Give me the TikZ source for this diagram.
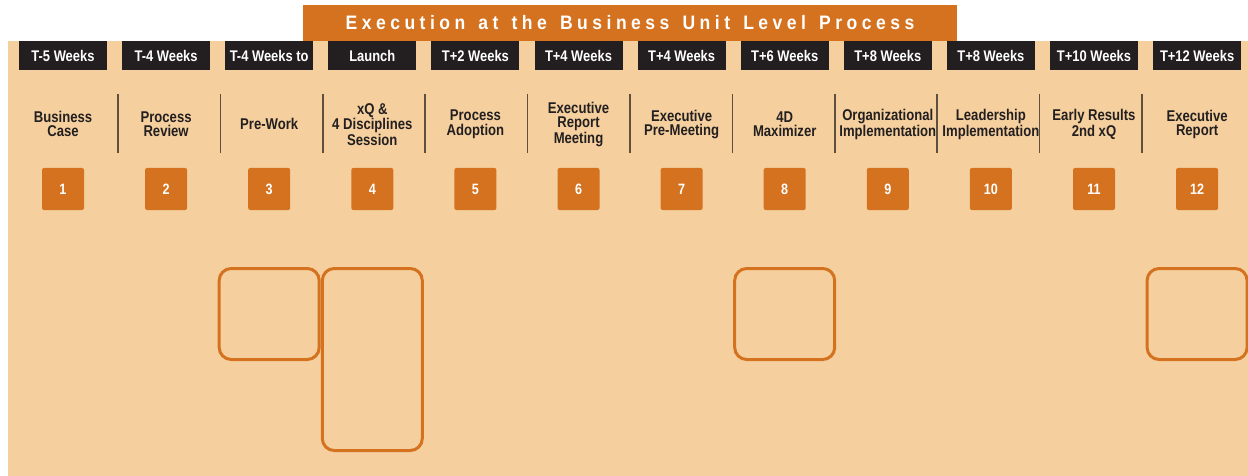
\documentclass[tikz,border=0pt]{standalone}
\usepackage{fontspec}
\setmainfont{Liberation Sans}[FakeStretch=0.84]
\newfontfamily\headfont{Liberation Sans}[FakeStretch=0.9, LetterSpace=23, WordSpace=1.4]
\usepackage{tikz}
\usetikzlibrary{positioning, calc}

\definecolor{sand}{RGB}{245,208,158}
\definecolor{rust}{RGB}{212,114,32}
\definecolor{ink}{RGB}{35,31,32}
\definecolor{rule}{RGB}{95,80,62}

\tikzstyle{title} = [rectangle, minimum width=654pt, minimum height=36pt, inner sep=0pt, fill=rust, text=white, font=\headfont\bfseries\fontsize{19.5}{20}\selectfont]
\tikzstyle{week} = [rectangle, minimum width=88pt, minimum height=29pt, inner sep=0pt, outer sep=0pt, fill=ink, text=white, font=\bfseries\fontsize{15.4}{15}\selectfont]
\tikzstyle{stage} = [align=center, inner sep=0pt, yshift=-2pt, text=ink, font=\bfseries\fontsize{15.6}{14.3}\selectfont]
\tikzstyle{num} = [rectangle, rounded corners=2pt, minimum size=42pt, inner sep=0pt, outer sep=0pt, fill=rust, text=white, font=\bfseries\fontsize{15}{15}\selectfont]
\tikzstyle{slot} = [rectangle, rounded corners=12pt, draw=rust, line width=3pt, minimum width=100pt, minimum height=91pt, inner sep=0pt, outer sep=0pt]
\tikzstyle{divider} = [draw=rule, line width=1.5pt]

\begin{document}
\begin{tikzpicture}[x=1pt, y=-1pt, node distance=15.1pt]
\useasboundingbox (0,0) rectangle (1248,476);
\fill[sand] (8,41) rectangle (1248,476);

\node [title] (head) at (630,23) {Execution at the Business Unit Level Process};

% timing tags
\node [week] (t1) at (63,55.5) {T-5 Weeks};
\node [week, right=of t1] (t2) {T-4 Weeks};
\node [week, right=of t2] (t3) {T-4 Weeks to};
\node [week, right=of t3] (t4) {Launch};
\node [week, right=of t4] (t5) {T+2 Weeks};
\node [week, right=of t5] (t6) {T+4 Weeks};
\node [week, right=of t6] (t7) {T+4 Weeks};
\node [week, right=of t7] (t8) {T+6 Weeks};
\node [week, right=of t8] (t9) {T+8 Weeks};
\node [week, right=of t9] (t10) {T+8 Weeks};
\node [week, right=of t10] (t11) {T+10 Weeks};
\node [week, right=of t11] (t12) {T+12 Weeks};

% step numbers
\node [num, below=98pt of t1] (n1) {1};
\node [num, below=98pt of t2] (n2) {2};
\node [num, below=98pt of t3] (n3) {3};
\node [num, below=98pt of t4] (n4) {4};
\node [num, below=98pt of t5] (n5) {5};
\node [num, below=98pt of t6] (n6) {6};
\node [num, below=98pt of t7] (n7) {7};
\node [num, below=98pt of t8] (n8) {8};
\node [num, below=98pt of t9] (n9) {9};
\node [num, below=98pt of t10] (n10) {10};
\node [num, below=98pt of t11] (n11) {11};
\node [num, below=98pt of t12] (n12) {12};

% stage names, halfway between tag and number
\node [stage] (s1) at ($(t1)!.5!(n1)$) {Business\\Case};
\node [stage] (s2) at ($(t2)!.5!(n2)$) {Process\\Review};
\node [stage] (s3) at ($(t3)!.5!(n3)$) {Pre-Work};
\node [stage] (s4) at ($(t4)!.5!(n4)$) {xQ \&\\4 Disciplines\\Session};
\node [stage] (s5) at ($(t5)!.5!(n5)$) {Process\\Adoption};
\node [stage] (s6) at ($(t6)!.5!(n6)$) {Executive\\Report\\Meeting};
\node [stage] (s7) at ($(t7)!.5!(n7)$) {Executive\\Pre-Meeting};
\node [stage] (s8) at ($(t8)!.5!(n8)$) {4D\\Maximizer};
\node [stage] (s9) at ($(t9)!.5!(n9)$) {Organizational\\Implementation};
\node [stage] (s10) at ($(t10)!.5!(n10)$) {Leadership\\Implementation};
\node [stage] (s11) at ($(t11)!.5!(n11)$) {Early Results\\2nd xQ};
\node [stage] (s12) at ($(t12)!.5!(n12)$) {Executive\\Report};

\foreach \k in {0,...,10}
    \draw [divider] (118+102.4*\k,94) -- ++(0,59);

% empty work frames
\node [slot, below=58.5pt of n3] (w3) {};
\node [slot, minimum height=182pt, below=58.5pt of n4] (w4) {};
\node [slot, below=58.5pt of n8] (w8) {};
\node [slot, below=58.5pt of n12] (w12) {};
\end{tikzpicture}
\end{document}
